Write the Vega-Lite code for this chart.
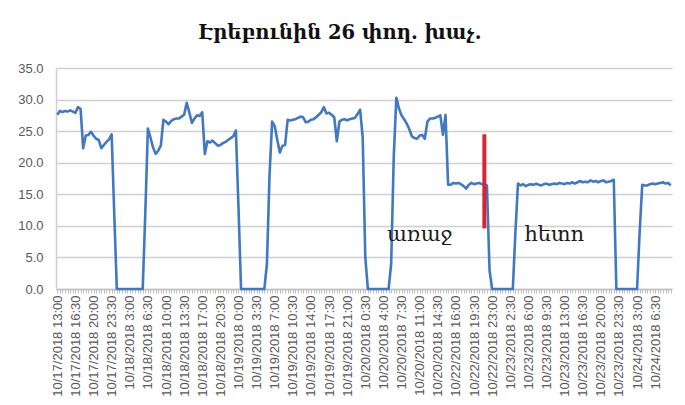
{
  "$schema": "https://vega.github.io/schema/vega-lite/v6.json",
  "width": 616,
  "height": 221,
  "autosize": {"type": "none"},
  "padding": {"left": 56, "top": 68, "right": 13, "bottom": 116},
  "background": "white",
  "title": {
    "text": "Էրեբունին 26 փող. խաչ.",
    "font": "DejaVu Serif",
    "fontSize": 19.5,
    "fontWeight": "bold",
    "color": "#111111",
    "anchor": "middle",
    "dx": -24,
    "offset": 19
  },
  "config": {
    "view": {"stroke": null},
    "axis": {"labelFont": "Liberation Sans", "labelFontSize": 13, "labelColor": "#595959"}
  },
  "data": {"values": [
    {"t":"10/17/2018 13:00","v":27.6},{"t":"10/17/2018 13:30","v":28.2},{"t":"10/17/2018 14:00","v":28.0},{"t":"10/17/2018 14:30","v":28.2},
    {"t":"10/17/2018 15:00","v":28.1},{"t":"10/17/2018 15:30","v":28.3},{"t":"10/17/2018 16:00","v":28.1},{"t":"10/17/2018 16:30","v":27.9},
    {"t":"10/17/2018 17:00","v":28.8},{"t":"10/17/2018 17:30","v":28.5},{"t":"10/17/2018 18:00","v":22.3},{"t":"10/17/2018 18:30","v":24.3},
    {"t":"10/17/2018 19:00","v":24.4},{"t":"10/17/2018 19:30","v":24.9},{"t":"10/17/2018 20:00","v":24.3},{"t":"10/17/2018 20:30","v":23.8},
    {"t":"10/17/2018 21:00","v":23.6},{"t":"10/17/2018 21:30","v":22.3},{"t":"10/17/2018 22:00","v":22.8},{"t":"10/17/2018 22:30","v":23.3},
    {"t":"10/17/2018 23:00","v":23.7},{"t":"10/17/2018 23:30","v":24.5},
    {"t":"10/18/2018 0:00","v":12.0},{"t":"10/18/2018 0:30","v":0},{"t":"10/18/2018 1:00","v":0},{"t":"10/18/2018 1:30","v":0},
    {"t":"10/18/2018 2:00","v":0},{"t":"10/18/2018 2:30","v":0},{"t":"10/18/2018 3:00","v":0},{"t":"10/18/2018 3:30","v":0},
    {"t":"10/18/2018 4:00","v":0},{"t":"10/18/2018 4:30","v":0},{"t":"10/18/2018 5:00","v":0},{"t":"10/18/2018 5:30","v":0},
    {"t":"10/18/2018 6:00","v":12},{"t":"10/18/2018 6:30","v":25.4},{"t":"10/18/2018 7:00","v":24.0},{"t":"10/18/2018 7:30","v":22.4},
    {"t":"10/18/2018 8:00","v":21.4},{"t":"10/18/2018 8:30","v":21.9},{"t":"10/18/2018 9:00","v":22.7},{"t":"10/18/2018 9:30","v":26.8},
    {"t":"10/18/2018 10:00","v":26.5},{"t":"10/18/2018 10:30","v":26.1},{"t":"10/18/2018 11:00","v":26.6},{"t":"10/18/2018 11:30","v":26.9},
    {"t":"10/18/2018 12:00","v":27.0},{"t":"10/18/2018 12:30","v":27.0},{"t":"10/18/2018 13:00","v":27.3},{"t":"10/18/2018 13:30","v":27.6},
    {"t":"10/18/2018 14:00","v":29.5},{"t":"10/18/2018 14:30","v":28.0},{"t":"10/18/2018 15:00","v":26.3},{"t":"10/18/2018 15:30","v":27.0},
    {"t":"10/18/2018 16:00","v":27.5},{"t":"10/18/2018 16:30","v":27.4},{"t":"10/18/2018 17:00","v":28.0},{"t":"10/18/2018 17:30","v":21.4},
    {"t":"10/18/2018 18:00","v":23.4},{"t":"10/18/2018 18:30","v":23.2},{"t":"10/18/2018 19:00","v":23.5},{"t":"10/18/2018 19:30","v":23.1},
    {"t":"10/18/2018 20:00","v":22.7},{"t":"10/18/2018 20:30","v":22.8},{"t":"10/18/2018 21:00","v":23.1},{"t":"10/18/2018 21:30","v":23.3},
    {"t":"10/18/2018 22:00","v":23.6},{"t":"10/18/2018 22:30","v":23.9},{"t":"10/18/2018 23:00","v":24.2},{"t":"10/18/2018 23:30","v":25.1},
    {"t":"10/19/2018 0:00","v":13.0},{"t":"10/19/2018 0:30","v":0},{"t":"10/19/2018 1:00","v":0},{"t":"10/19/2018 1:30","v":0},
    {"t":"10/19/2018 2:00","v":0},{"t":"10/19/2018 2:30","v":0},{"t":"10/19/2018 3:00","v":0},{"t":"10/19/2018 3:30","v":0},
    {"t":"10/19/2018 4:00","v":0},{"t":"10/19/2018 4:30","v":0},{"t":"10/19/2018 5:00","v":0},{"t":"10/19/2018 5:30","v":4},
    {"t":"10/19/2018 6:00","v":18},{"t":"10/19/2018 6:30","v":26.5},{"t":"10/19/2018 7:00","v":25.8},{"t":"10/19/2018 7:30","v":23.6},
    {"t":"10/19/2018 8:00","v":21.6},{"t":"10/19/2018 8:30","v":22.7},{"t":"10/19/2018 9:00","v":22.8},{"t":"10/19/2018 9:30","v":26.8},
    {"t":"10/19/2018 10:00","v":26.7},{"t":"10/19/2018 10:30","v":26.8},{"t":"10/19/2018 11:00","v":26.9},{"t":"10/19/2018 11:30","v":27.1},
    {"t":"10/19/2018 12:00","v":27.3},{"t":"10/19/2018 12:30","v":27.2},{"t":"10/19/2018 13:00","v":26.4},{"t":"10/19/2018 13:30","v":26.5},
    {"t":"10/19/2018 14:00","v":26.8},{"t":"10/19/2018 14:30","v":26.9},{"t":"10/19/2018 15:00","v":27.2},{"t":"10/19/2018 15:30","v":27.6},
    {"t":"10/19/2018 16:00","v":28.0},{"t":"10/19/2018 16:30","v":28.8},{"t":"10/19/2018 17:00","v":27.8},{"t":"10/19/2018 17:30","v":27.9},
    {"t":"10/19/2018 18:00","v":27.6},{"t":"10/19/2018 18:30","v":27.2},{"t":"10/19/2018 19:00","v":23.4},{"t":"10/19/2018 19:30","v":26.5},
    {"t":"10/19/2018 20:00","v":26.8},{"t":"10/19/2018 20:30","v":26.9},{"t":"10/19/2018 21:00","v":26.7},{"t":"10/19/2018 21:30","v":26.9},
    {"t":"10/19/2018 22:00","v":27.0},{"t":"10/19/2018 22:30","v":27.1},{"t":"10/19/2018 23:00","v":27.7},{"t":"10/19/2018 23:30","v":28.4},
    {"t":"10/20/2018 0:00","v":24.0},{"t":"10/20/2018 0:30","v":5},{"t":"10/20/2018 1:00","v":0},{"t":"10/20/2018 1:30","v":0},
    {"t":"10/20/2018 2:00","v":0},{"t":"10/20/2018 2:30","v":0},{"t":"10/20/2018 3:00","v":0},{"t":"10/20/2018 3:30","v":0},
    {"t":"10/20/2018 4:00","v":0},{"t":"10/20/2018 4:30","v":0},{"t":"10/20/2018 5:00","v":0},{"t":"10/20/2018 5:30","v":4},
    {"t":"10/20/2018 6:00","v":21},{"t":"10/20/2018 6:30","v":30.3},{"t":"10/20/2018 7:00","v":28.6},{"t":"10/20/2018 7:30","v":27.5},
    {"t":"10/20/2018 8:00","v":26.9},{"t":"10/20/2018 8:30","v":26.2},{"t":"10/20/2018 9:00","v":25.3},{"t":"10/20/2018 9:30","v":24.2},
    {"t":"10/20/2018 10:00","v":23.9},{"t":"10/20/2018 10:30","v":23.8},{"t":"10/20/2018 11:00","v":24.3},{"t":"10/20/2018 11:30","v":24.4},
    {"t":"10/20/2018 12:00","v":23.8},{"t":"10/20/2018 12:30","v":26.5},{"t":"10/20/2018 13:00","v":27.0},{"t":"10/20/2018 13:30","v":27.0},
    {"t":"10/20/2018 14:00","v":27.1},{"t":"10/20/2018 14:30","v":27.3},{"t":"10/20/2018 15:00","v":27.5},{"t":"10/20/2018 15:30","v":24.4},
    {"t":"10/20/2018 16:00","v":27.6},
    {"t":"10/22/2018 14:30","v":16.5},{"t":"10/22/2018 15:00","v":16.5},{"t":"10/22/2018 15:30","v":16.8},{"t":"10/22/2018 16:00","v":16.7},
    {"t":"10/22/2018 16:30","v":16.8},{"t":"10/22/2018 17:00","v":16.6},{"t":"10/22/2018 17:30","v":16.3},{"t":"10/22/2018 18:00","v":15.9},
    {"t":"10/22/2018 18:30","v":16.5},{"t":"10/22/2018 19:00","v":16.8},{"t":"10/22/2018 19:30","v":16.6},{"t":"10/22/2018 20:00","v":16.7},
    {"t":"10/22/2018 20:30","v":16.8},{"t":"10/22/2018 21:00","v":16.6},{"t":"10/22/2018 21:30","v":16.6},{"t":"10/22/2018 22:00","v":16.4},
    {"t":"10/22/2018 22:30","v":3},{"t":"10/22/2018 23:00","v":0},{"t":"10/22/2018 23:30","v":0},
    {"t":"10/23/2018 0:00","v":0},{"t":"10/23/2018 0:30","v":0},{"t":"10/23/2018 1:00","v":0},{"t":"10/23/2018 1:30","v":0},
    {"t":"10/23/2018 2:00","v":0},{"t":"10/23/2018 2:30","v":0},{"t":"10/23/2018 3:00","v":0},{"t":"10/23/2018 3:30","v":9},
    {"t":"10/23/2018 4:00","v":16.7},{"t":"10/23/2018 4:30","v":16.4},{"t":"10/23/2018 5:00","v":16.6},{"t":"10/23/2018 5:30","v":16.3},
    {"t":"10/23/2018 6:00","v":16.5},{"t":"10/23/2018 6:30","v":16.6},{"t":"10/23/2018 7:00","v":16.5},{"t":"10/23/2018 7:30","v":16.7},
    {"t":"10/23/2018 8:00","v":16.5},{"t":"10/23/2018 8:30","v":16.4},{"t":"10/23/2018 9:00","v":16.6},{"t":"10/23/2018 9:30","v":16.7},
    {"t":"10/23/2018 10:00","v":16.5},{"t":"10/23/2018 10:30","v":16.6},{"t":"10/23/2018 11:00","v":16.7},{"t":"10/23/2018 11:30","v":16.6},
    {"t":"10/23/2018 12:00","v":16.8},{"t":"10/23/2018 12:30","v":16.7},{"t":"10/23/2018 13:00","v":16.6},{"t":"10/23/2018 13:30","v":16.8},
    {"t":"10/23/2018 14:00","v":16.7},{"t":"10/23/2018 14:30","v":16.9},{"t":"10/23/2018 15:00","v":16.7},{"t":"10/23/2018 15:30","v":16.9},
    {"t":"10/23/2018 16:00","v":17.1},{"t":"10/23/2018 16:30","v":16.9},{"t":"10/23/2018 17:00","v":17.0},{"t":"10/23/2018 17:30","v":16.9},
    {"t":"10/23/2018 18:00","v":17.2},{"t":"10/23/2018 18:30","v":17.0},{"t":"10/23/2018 19:00","v":17.1},{"t":"10/23/2018 19:30","v":16.9},
    {"t":"10/23/2018 20:00","v":17.1},{"t":"10/23/2018 20:30","v":17.2},{"t":"10/23/2018 21:00","v":16.9},{"t":"10/23/2018 21:30","v":17.0},
    {"t":"10/23/2018 22:00","v":17.1},{"t":"10/23/2018 22:30","v":17.3},{"t":"10/23/2018 23:00","v":0},{"t":"10/23/2018 23:30","v":0},
    {"t":"10/24/2018 0:00","v":0},{"t":"10/24/2018 0:30","v":0},{"t":"10/24/2018 1:00","v":0},{"t":"10/24/2018 1:30","v":0},
    {"t":"10/24/2018 2:00","v":0},{"t":"10/24/2018 2:30","v":0},{"t":"10/24/2018 3:00","v":0},{"t":"10/24/2018 3:30","v":9},
    {"t":"10/24/2018 4:00","v":16.5},{"t":"10/24/2018 4:30","v":16.4},{"t":"10/24/2018 5:00","v":16.4},{"t":"10/24/2018 5:30","v":16.6},
    {"t":"10/24/2018 6:00","v":16.7},{"t":"10/24/2018 6:30","v":16.6},{"t":"10/24/2018 7:00","v":16.7},{"t":"10/24/2018 7:30","v":16.8},
    {"t":"10/24/2018 8:00","v":16.9},{"t":"10/24/2018 8:30","v":16.7},{"t":"10/24/2018 9:00","v":16.8},{"t":"10/24/2018 9:30","v":16.4}
  ]},
  "encoding": {
    "x": {
      "field": "t", "type": "ordinal", "sort": null,
      "scale": {"type": "point", "padding": 0.5},
      "axis": {
        "title": null,
        "labelAngle": -90,
        "labelOverlap": false,
        "labelPadding": 2,
        "tickSize": 4,
        "tickColor": "#bfbfbf",
        "domainColor": "#bfbfbf",
        "domainWidth": 1.5,
        "grid": false,
        "labelExpr": "indexof(['10/17/2018 13:00','10/17/2018 16:30','10/17/2018 20:00','10/17/2018 23:30','10/18/2018 3:00','10/18/2018 6:30','10/18/2018 10:00','10/18/2018 13:30','10/18/2018 17:00','10/18/2018 20:30','10/19/2018 0:00','10/19/2018 3:30','10/19/2018 7:00','10/19/2018 10:30','10/19/2018 14:00','10/19/2018 17:30','10/19/2018 21:00','10/20/2018 0:30','10/20/2018 4:00','10/20/2018 7:30','10/20/2018 11:00','10/20/2018 14:30','10/22/2018 16:00','10/22/2018 19:30','10/22/2018 23:00','10/23/2018 2:30','10/23/2018 6:00','10/23/2018 9:30','10/23/2018 13:00','10/23/2018 16:30','10/23/2018 20:00','10/23/2018 23:30','10/24/2018 3:00','10/24/2018 6:30'], datum.value) >= 0 ? datum.value : ''"
      }
    },
    "y": {
      "field": "v", "type": "quantitative",
      "scale": {"domain": [0, 35]},
      "axis": {
        "title": null,
        "values": [0, 5, 10, 15, 20, 25, 30, 35],
        "format": ".1f",
        "labelOverlap": false,
        "ticks": false,
        "labelPadding": 13,
        "domain": true,
        "domainColor": "#d0d0d0",
        "domainWidth": 1.5,
        "grid": true,
        "gridColor": "#d0d0d0",
        "gridWidth": 1.6
      }
    }
  },
  "layer": [
    {
      "mark": {"type": "line", "color": "#4079c2", "strokeWidth": 2.6, "strokeJoin": "round"}
    },
    {
      "data": {"values": [{"t": "10/22/2018 21:30", "v": 9.6, "v2": 24.5}]},
      "mark": {"type": "rule", "color": "#d7262f", "strokeWidth": 4},
      "encoding": {
        "y2": {"field": "v2"}
      }
    },
    {
      "data": {"values": [
        {"t": "10/20/2018 11:00", "v": 8.6, "label": "առաջ"},
        {"t": "10/23/2018 11:00", "v": 8.6, "label": "հետո"}
      ]},
      "mark": {"type": "text", "font": "DejaVu Serif", "fontSize": 21, "color": "#1a1a1a", "baseline": "middle", "align": "center"},
      "encoding": {
        "text": {"field": "label"}
      }
    }
  ]
}
